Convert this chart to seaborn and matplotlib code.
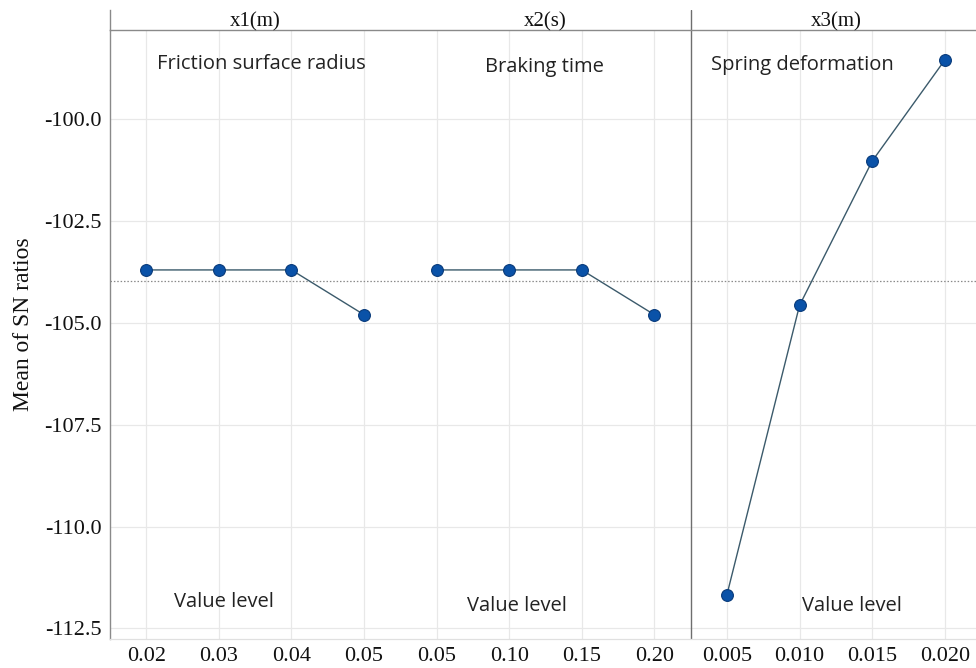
import matplotlib
matplotlib.use("Agg")
import matplotlib.pyplot as plt
import seaborn as sns
import numpy as np
import pandas as pd

# ---- data ----
factors = ["x1(m)", "x2(s)", "x3(m)"]
factor_names = ["Friction surface radius", "Braking time", "Spring deformation"]
x1_levels = ["0.02", "0.03", "0.04", "0.05"]
x2_levels = ["0.05", "0.10", "0.15", "0.20"]
x3_levels = ["0.005", "0.010", "0.015", "0.020"]
x1_sn = [-103.70, -103.70, -103.70, -104.80]
x2_sn = [-103.70, -103.70, -103.70, -104.80]
x3_sn = [-111.67, -104.57, -101.03, -98.55]
y_ticks = [-100.0, -102.5, -105.0, -107.5, -110.0, -112.5]
y_tick_labels = ["-100.0", "-102.5", "-105.0", "-107.5", "-110.0", "-112.5"]

levels = [x1_levels, x2_levels, x3_levels]
values = [x1_sn, x2_sn, x3_sn]
rows = []
pos = 0
for f, lv, vals in zip(factors, levels, values):
    for l, v in zip(lv, vals):
        rows.append({"factor": f, "level": l, "pos": pos, "sn": v})
        pos += 1
df = pd.DataFrame(rows)
grand_mean = float(np.mean(df["sn"]))

sns.set_theme(style="whitegrid")
plt.rcParams["axes.unicode_minus"] = False
serif = "Liberation Serif"
sans = "Open Sans"

W, H = 976, 668
fig = plt.figure(figsize=(W / 100, H / 100), dpi=100)
ax = fig.add_axes([110 / W, 29 / H, 871 / W, 609 / H])
hax = fig.add_axes([110 / W, 638 / H, 871 / W, 20 / H])

line_col = "#3b5a6b"
face_col = "#0a52a8"
edge_col = "#083a7a"

for f in factors:
    sub = df[df["factor"] == f]
    sns.lineplot(data=sub, x="pos", y="sn", ax=ax, color=line_col, linewidth=1.0,
                 marker="o", markersize=8.5, markerfacecolor=face_col,
                 markeredgecolor=edge_col, markeredgewidth=0.8, estimator=None,
                 legend=False, zorder=3)

ax.axhline(grand_mean, color="#8a8a8a", linestyle=(0, (1.2, 1.5)), linewidth=0.9, zorder=2)
ax.axvline(7.5, color="#6e6e6e", linewidth=1.0, zorder=2)

ax.set_xlim(-0.5, 11.5)
ax.set_ylim(-112.76, -97.81)
ax.set_xticks(df["pos"].tolist())
ax.set_xticklabels(df["level"].tolist(), fontfamily=serif, fontsize=16, color="#111111")
ax.set_yticks(y_ticks)
ax.set_yticklabels(y_tick_labels, fontfamily=serif, fontsize=16, color="#111111")
ax.set_xlabel("")
ax.set_ylabel("Mean of SN ratios", fontfamily=serif, fontsize=17, color="#111111")
ax.yaxis.set_label_coords(-0.087, 0.517)
ax.grid(True, color="#e8e8e8", linewidth=0.9)
ax.tick_params(axis="both", length=4, width=0.8, color="#9a9a9a", pad=2)
for s in ["top", "right"]:
    ax.spines[s].set_visible(False)
ax.spines["left"].set_color("#8a8a8a")
ax.spines["left"].set_linewidth(1.0)
ax.spines["bottom"].set_color("#e0e0e0")
ax.spines["bottom"].set_linewidth(0.9)

# panel annotations
name_pos = [(1.58, -98.64), (5.48, -98.72), (9.04, -98.67)]
for n, (px, py) in zip(factor_names, name_pos):
    ax.text(px, py, n, ha="center", va="center", fontfamily=sans, fontsize=14.5, color="#222222")
vl_pos = [(1.07, -111.85), (5.10, -111.95), (9.72, -111.95)]
for px, py in vl_pos:
    ax.text(px, py, "Value level", ha="center", va="center", fontfamily=sans, fontsize=14.5, color="#222222")

# header strip
hax.set_xlim(-0.5, 11.5)
hax.set_ylim(0, 1)
hax.set_xticks([])
hax.set_yticks([])
hax.grid(False)
hax.set_facecolor("white")
for s in ["top", "right"]:
    hax.spines[s].set_visible(False)
hax.spines["left"].set_color("#8a8a8a")
hax.spines["bottom"].set_color("#8a8a8a")
hax.spines["left"].set_linewidth(1.0)
hax.spines["bottom"].set_linewidth(1.0)
hax.axvline(7.5, color="#6e6e6e", linewidth=1.0)
for i, f in enumerate(factors):
    hax.text(1.5 + 4 * i, 0.4, f, ha="center", va="center", fontfamily=serif,
             fontsize=15, color="#111111")

fig.savefig("out.png", dpi=100)
